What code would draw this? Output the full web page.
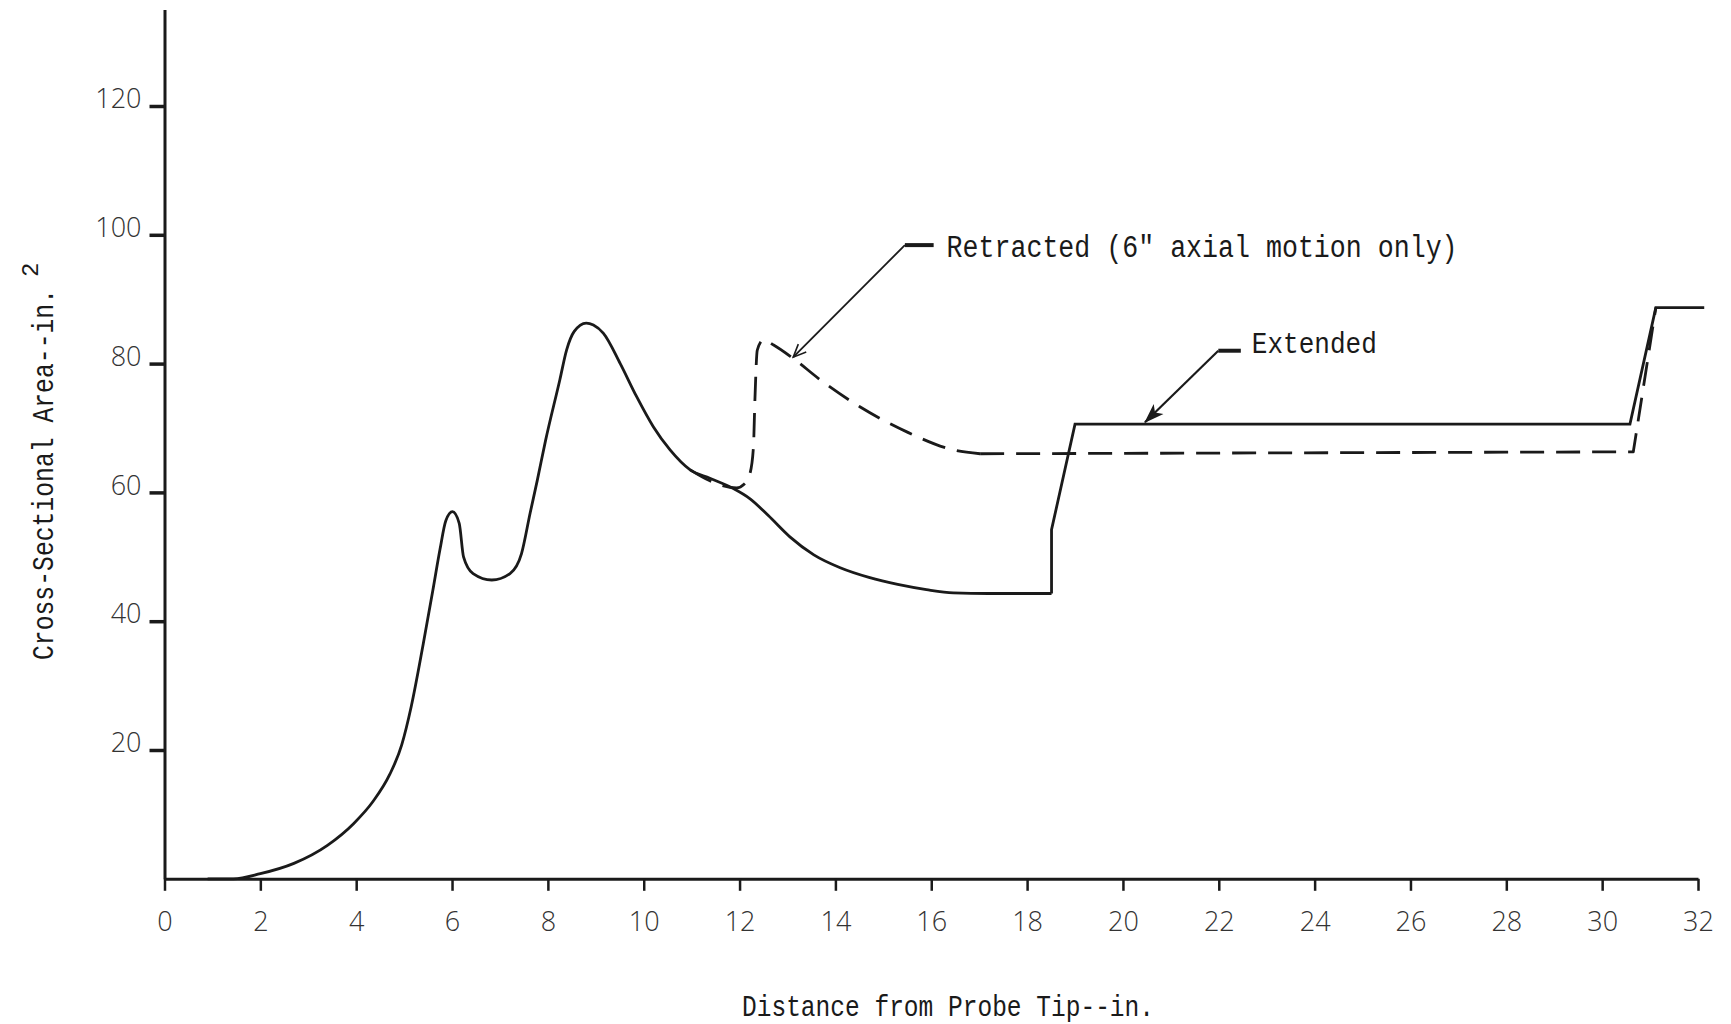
<!DOCTYPE html>
<html>
<head>
<meta charset="utf-8">
<script src="https://cdn.jsdelivr.net/npm/d3@7"></script>
<style>
  body { margin: 0; background: #fff; }
  svg { display: block; }
</style>
</head>
<body>
<svg width="1731" height="1024"></svg>
<script>
const { select, scaleLinear, line, curveMonotoneX, curveLinear, axisLeft, axisBottom } = d3;

// data (distance in., area in.^2)
const xTicks = [0, 2, 4, 6, 8, 10, 12, 14, 16, 18, 20, 22, 24, 26, 28, 30, 32];
const yTicks = [20, 40, 60, 80, 100, 120];

// Extended - smooth part of the curve
const extendedCurve = [
  [0.9, 0], [1.44, 0], [2.0, 0.8], [2.7, 2.4], [3.4, 5.2], [3.95, 8.6],
  [4.35, 12.0], [4.7, 16.2], [4.95, 20.8], [5.15, 26.8], [5.4, 36.5], [5.6, 44.8],
  [5.75, 51.2], [5.87, 55.6], [6.01, 57.0], [6.15, 55.2], [6.24, 50.0], [6.44, 47.4],
  [6.83, 46.4], [7.21, 47.4], [7.45, 50.5], [7.63, 56.8], [7.78, 61.9], [7.95, 68],
  [8.25, 77.5], [8.39, 82.1], [8.55, 85.0], [8.8, 86.3], [8.95, 86.0], [9.16, 84.7],
  [9.51, 80.0], [9.85, 74.9], [10.2, 70.2], [10.55, 66.6], [10.97, 63.5],
  [11.38, 62.2], [11.87, 60.6], [12.22, 59.0], [12.6, 56.4], [13.05, 53.1],
  [13.55, 50.3], [14.1, 48.3], [14.7, 46.8], [15.3, 45.7], [15.9, 44.9],
  [16.46, 44.4], [17.2, 44.3], [18.51, 44.3]
];
// Extended - straight part
const extendedSteps = [
  [18.51, 44.3], [18.51, 54.2], [19.0, 70.6], [30.58, 70.6], [31.12, 88.7], [32.13, 88.7]
];

// Retracted - where it leaves the extended curve
const retractedCurve = [
  [10.97, 63.5], [11.38, 61.8], [11.94, 60.7], [12.1, 61.3], [12.22, 63.0],
  [12.29, 67.1], [12.32, 74.3], [12.37, 82.1], [12.5, 83.7], [12.71, 82.9],
  [13.12, 80.8], [13.68, 77.5], [14.51, 73.3], [15.49, 69.4], [16.46, 66.6],
  [17.02, 66.0]
];
const retractedSteps = [
  [17.02, 66.0], [30.65, 66.3], [31.12, 88.7]
];

const svg = select('svg');
const ink = '#1a1a1a';

svg.append('rect').attr('width', 1731).attr('height', 1024).attr('fill', '#fff');

const x = scaleLinear().domain([0, 32]).range([164.5, 1698]);
const y = scaleLinear().domain([0, 135]).range([878.8, 9.4]);

const defs = svg.append('defs');
defs.append('marker')
  .attr('id', 'open-head')
  .attr('viewBox', '0 0 20 20')
  .attr('refX', 18).attr('refY', 10)
  .attr('markerWidth', 16).attr('markerHeight', 16)
  .attr('markerUnits', 'userSpaceOnUse')
  .attr('orient', 'auto')
  .append('path')
  .attr('d', 'M2,3 L18,10 L2,17')
  .attr('fill', 'none')
  .attr('stroke', ink)
  .attr('stroke-width', 2);
defs.append('marker')
  .attr('id', 'solid-head')
  .attr('viewBox', '0 0 20 20')
  .attr('refX', 19).attr('refY', 10)
  .attr('markerWidth', 20).attr('markerHeight', 20)
  .attr('markerUnits', 'userSpaceOnUse')
  .attr('orient', 'auto')
  .append('path')
  .attr('d', 'M0,3 L20,10 L0,17 L5,10 Z')
  .attr('fill', ink);

// Y axis
const yAxisG = svg.append('g')
  .attr('transform', `translate(${x(0)},0)`)
  .call(axisLeft(y).tickValues(yTicks).tickSize(15).tickSizeOuter(0).tickPadding(8));
yAxisG.select('.domain').attr('stroke', ink).attr('stroke-width', 3);
yAxisG.selectAll('.tick line').attr('stroke', ink).attr('stroke-width', 3.5);
yAxisG.selectAll('.tick text')
  .attr('dy', '0.06em')
  .attr('fill', '#333')
  .attr('font-family', "'Open Sans', 'DejaVu Sans', sans-serif")
  .attr('font-weight', 300)
  .attr('font-size', 27);

// X axis
const xAxisG = svg.append('g')
  .attr('transform', `translate(0,${y(0)})`)
  .call(axisBottom(x).tickValues(xTicks).tickSize(12).tickSizeOuter(0).tickPadding(21));
xAxisG.select('.domain').attr('stroke', ink).attr('stroke-width', 3);
xAxisG.selectAll('.tick line').attr('stroke', ink).attr('stroke-width', 2.5);
xAxisG.selectAll('.tick text')
  .attr('fill', '#333')
  .attr('font-family', "'Open Sans', 'DejaVu Sans', sans-serif")
  .attr('font-weight', 300)
  .attr('font-size', 27);

// Curves
const smooth = line().x(d => x(d[0])).y(d => y(d[1])).curve(curveMonotoneX);
const straight = line().x(d => x(d[0])).y(d => y(d[1])).curve(curveLinear);

const curves = svg.append('g')
  .attr('fill', 'none')
  .attr('stroke', ink)
  .attr('stroke-width', 2.8)
  .attr('stroke-linejoin', 'round');

curves.append('path').attr('d', smooth(extendedCurve));
curves.append('path').attr('d', straight(extendedSteps)).attr('stroke-linejoin', 'miter');

curves.append('path').attr('d', smooth(retractedCurve)).attr('stroke-dasharray', '24,12');
curves.append('path').attr('d', straight(retractedSteps)).attr('stroke-dasharray', '24,12');

// Annotations
const mono = "'Liberation Mono', 'DejaVu Sans Mono', monospace";

const notes = svg.append('g').attr('fill', ink);

// Retracted
notes.append('line')
  .attr('x1', x(15.45)).attr('y1', y(98.4))
  .attr('x2', x(16.05)).attr('y2', y(98.4))
  .attr('stroke', ink).attr('stroke-width', 4);
notes.append('line')
  .attr('x1', x(15.45)).attr('y1', y(98.4))
  .attr('x2', x(13.12)).attr('y2', y(81.0))
  .attr('stroke', ink).attr('stroke-width', 1.8)
  .attr('marker-end', 'url(#open-head)');
notes.append('text')
  .attr('x', x(16.32)).attr('y', y(96.6))
  .attr('font-family', mono)
  .attr('font-size', 31)
  .attr('textLength', 511)
  .attr('lengthAdjust', 'spacingAndGlyphs')
  .text('Retracted (6" axial motion only)');

// Extended
notes.append('line')
  .attr('x1', x(21.99)).attr('y1', y(82.0))
  .attr('x2', x(22.46)).attr('y2', y(82.0))
  .attr('stroke', ink).attr('stroke-width', 4);
notes.append('line')
  .attr('x1', x(21.99)).attr('y1', y(82.0))
  .attr('x2', x(20.46)).attr('y2', y(70.9))
  .attr('stroke', ink).attr('stroke-width', 2.2)
  .attr('marker-end', 'url(#solid-head)');
notes.append('text')
  .attr('x', x(22.69)).attr('y', y(81.6))
  .attr('font-family', mono)
  .attr('font-size', 30)
  .attr('textLength', 125)
  .attr('lengthAdjust', 'spacingAndGlyphs')
  .text('Extended');

// Axis titles
svg.append('text')
  .attr('x', 742).attr('y', 1016)
  .attr('fill', ink)
  .attr('font-family', mono)
  .attr('font-size', 29)
  .attr('textLength', 412)
  .attr('lengthAdjust', 'spacingAndGlyphs')
  .text('Distance from Probe Tip--in.');

const yTitle = svg.append('g')
  .attr('transform', 'translate(53,660) rotate(-90)')
  .attr('fill', ink)
  .attr('font-family', mono);
yTitle.append('text')
  .attr('x', 0).attr('y', 0)
  .attr('font-size', 29)
  .attr('textLength', 371)
  .attr('lengthAdjust', 'spacingAndGlyphs')
  .text('Cross-Sectional Area--in.');
yTitle.append('text')
  .attr('x', 383).attr('y', -15)
  .attr('font-size', 24)
  .text('2');
</script>
</body>
</html>
